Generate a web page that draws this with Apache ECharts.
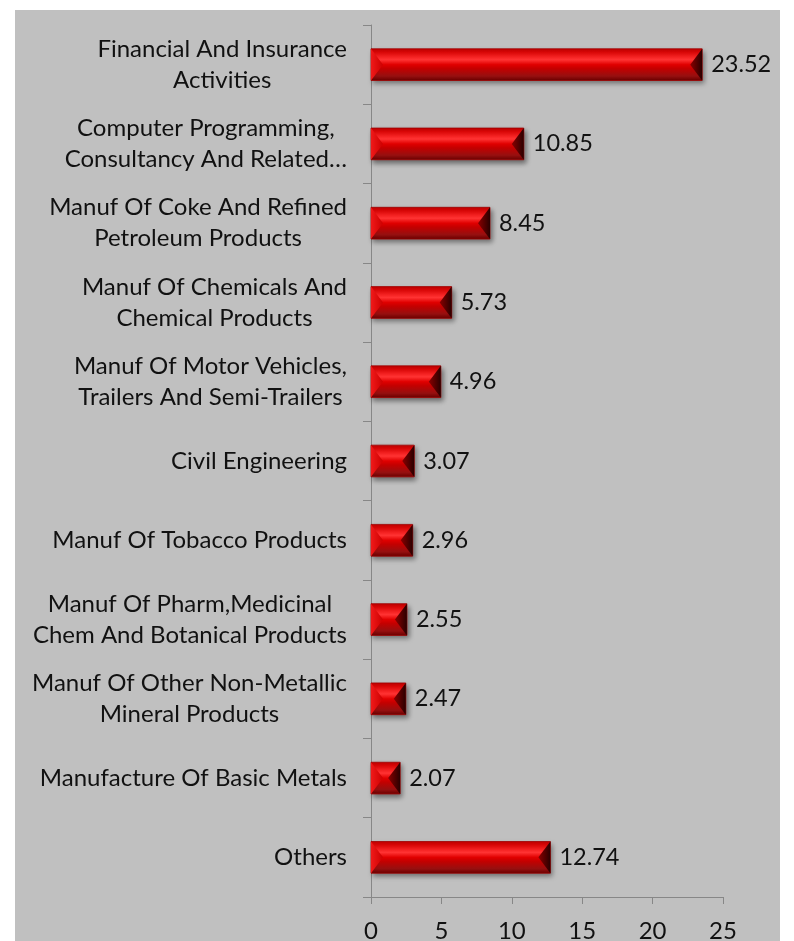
<!DOCTYPE html>
<html>
<head>
<meta charset="utf-8">
<script src="https://cdn.jsdelivr.net/npm/echarts@6/dist/echarts.min.js"></script>
<style>
html,body{margin:0;padding:0;background:#ffffff;}
#wrap{position:absolute;left:15px;top:10px;width:765px;height:931px;background:#c0c0c0;}
#chart{width:765px;height:931px;}
</style>
</head>
<body>
<div id="wrap"><div id="chart"></div></div>
<script>
const categories = [
  "Financial And Insurance\nActivities",
  "Computer Programming,\nConsultancy And Related…",
  "Manuf Of Coke And Refined\nPetroleum Products",
  "Manuf Of Chemicals And\nChemical Products",
  "Manuf Of Motor Vehicles,\nTrailers And Semi-Trailers",
  "Civil Engineering",
  "Manuf Of Tobacco Products",
  "Manuf Of Pharm,Medicinal\nChem And Botanical Products",
  "Manuf Of Other Non-Metallic\nMineral Products",
  "Manufacture Of Basic Metals",
  "Others"
];
const values = [23.52, 10.85, 8.45, 5.73, 4.96, 3.07, 2.96, 2.55, 2.47, 2.07, 12.74];
const xTicks = { min: 0, max: 25, interval: 5 };

const FONT = 'Lato, "Open Sans", sans-serif';
const chart = echarts.init(document.getElementById('chart'), null, { renderer: 'canvas' });

function renderBar(params, api) {
  const idx = api.value(1);
  const v = api.value(0);
  const s = api.coord([0, idx]);
  const e = api.coord([v, idx]);
  const band = api.size([0, 1])[1];
  const h = band * 0.4;
  const x0 = s[0], x1 = e[0], yc = s[1];
  const y0 = yc - h / 2, y1 = yc + h / 2;
  const b = Math.min(12, h / 2, (x1 - x0) / 2);
  return {
    type: 'group',
    children: [
      {
        type: 'rect',
        shape: { x: x0, y: y0, width: x1 - x0, height: h },
        style: {
          fill: new echarts.graphic.LinearGradient(0, 0, 0, 1, [
            { offset: 0, color: '#c00000' },
            { offset: 0.12, color: '#e60808' },
            { offset: 0.35, color: '#ff3333' },
            { offset: 0.5, color: '#e00000' },
            { offset: 0.62, color: '#c40000' },
            { offset: 0.85, color: '#961010' },
            { offset: 1, color: '#6a0000' }
          ]),
          stroke: '#a00000',
          lineWidth: 0.8,
          shadowColor: 'rgba(0,0,0,0.45)',
          shadowBlur: 5,
          shadowOffsetX: 2,
          shadowOffsetY: 3
        }
      },
      {
        type: 'polygon',
        shape: { points: [[x0, y0], [x0 + b, yc], [x0, y1]] },
        style: {
          fill: new echarts.graphic.LinearGradient(0, 0, 1, 0, [
            { offset: 0, color: '#f01a1a' },
            { offset: 1, color: '#cc0000' }
          ])
        }
      },
      {
        type: 'polygon',
        shape: { points: [[x1, y0], [x1 - b, yc], [x1, y1]] },
        style: {
          fill: new echarts.graphic.LinearGradient(0, 0, 1, 0, [
            { offset: 0, color: '#8a0000' },
            { offset: 1, color: '#2a0000' }
          ])
        }
      },
      {
        type: 'text',
        style: {
          text: v.toFixed(2),
          x: x1 + 9,
          y: yc,
          verticalAlign: 'middle',
          align: 'left',
          fill: '#111111',
          font: '23.5px ' + FONT
        }
      }
    ]
  };
}

chart.setOption({
  backgroundColor: 'transparent',
  animation: false,
  grid: { left: 356, right: 57, top: 15, bottom: 44, containLabel: false, outerBoundsMode: 'none' },
  xAxis: {
    type: 'value',
    min: xTicks.min, max: xTicks.max, interval: xTicks.interval,
    splitLine: { show: false },
    axisLine: { show: true, lineStyle: { color: '#878787', width: 1 } },
    axisTick: { show: true, length: 7, lineStyle: { color: '#878787' } },
    axisLabel: { color: '#111111', fontSize: 24, fontFamily: FONT, margin: 22 }
  },
  yAxis: {
    type: 'category',
    inverse: true,
    data: categories,
    axisLine: { show: true, lineStyle: { color: '#878787', width: 1 } },
    axisTick: { show: true, length: 8, lineStyle: { color: '#878787' } },
    axisLabel: {
      margin: 24,
      align: 'right',
      color: '#111111',
      fontSize: 24,
      fontFamily: FONT,
      lineHeight: 31,
      formatter: function (val) {
        return val.split('\n').map(function (l) { return '{c|' + l + '}'; }).join('\n');
      },
      rich: {
        c: { align: 'center', fontSize: 24, fontFamily: FONT, color: '#111111', lineHeight: 31 }
      }
    }
  },
  series: [{
    type: 'custom',
    renderItem: renderBar,
    encode: { x: 0, y: 1 },
    data: values.map(function (v, i) { return [v, i]; }),
    clip: false
  }]
});
</script>
</body>
</html>
